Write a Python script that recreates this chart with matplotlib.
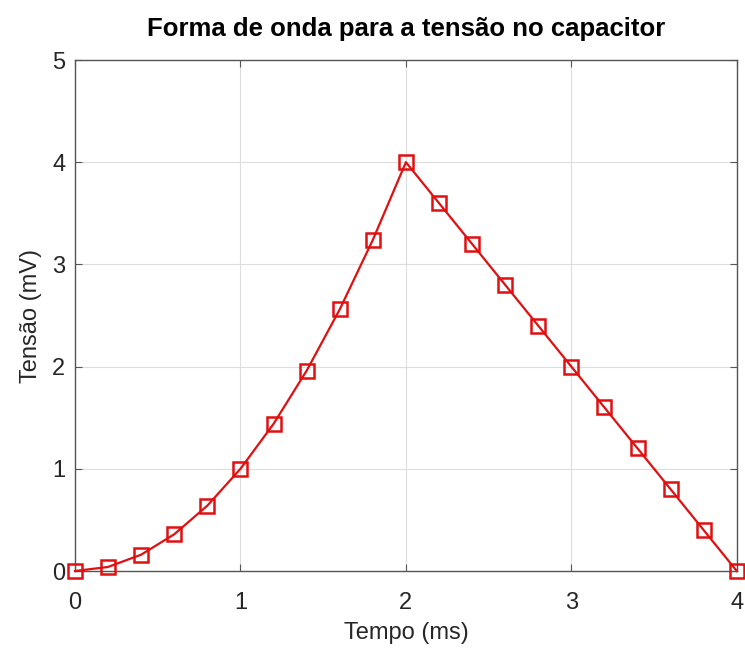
import matplotlib
matplotlib.use('Agg')
from matplotlib import pyplot as plt

# tempo (ms) e tensao (mV)
tempo = [0.0, 0.2, 0.4, 0.6, 0.8, 1.0, 1.2, 1.4, 1.6, 1.8, 2.0,
         2.2, 2.4, 2.6, 2.8, 3.0, 3.2, 3.4, 3.6, 3.8, 4.0]
tensao = [0.0, 0.04, 0.16, 0.36, 0.64, 1.0, 1.44, 1.96, 2.56, 3.24, 4.0,
          3.6, 3.2, 2.8, 2.4, 2.0, 1.6, 1.2, 0.8, 0.4, 0.0]

xticks = [0, 1, 2, 3, 4]
yticks = [0, 1, 2, 3, 4, 5]

plt.rcParams['font.family'] = ['Liberation Sans', 'DejaVu Sans']

fig = plt.figure(figsize=(7.45, 6.48), dpi=100)
ax = fig.add_axes([0.1007, 0.1188, 0.8883, 0.7886])

ax.plot(tempo, tensao, color='#e01010', linewidth=1.6, marker='s',
        markersize=10.5, markerfacecolor='none', markeredgewidth=1.8,
        clip_on=False, zorder=3)

ax.set_xlim(0, 4)
ax.set_ylim(0, 5)
ax.set_xticks(xticks)
ax.set_yticks(yticks)
ax.grid(True, color='#dddddd', linewidth=0.8)
ax.set_axisbelow(True)
ax.tick_params(direction='in', length=5, width=0.8, colors='#555555',
               labelcolor='#262626', labelsize=17, top=True, right=True)
ax.tick_params(axis='x', pad=15)
ax.tick_params(axis='y', pad=7)
for s in ax.spines.values():
    s.set_color('#555555')
    s.set_linewidth(1.0)

ax.set_xlabel('Tempo (ms)', fontsize=17, color='#262626', labelpad=6)
ax.set_ylabel('Tensão (mV)', fontsize=17, color='#262626', labelpad=7)
ax.set_title('Forma de onda para a tensão no capacitor', fontsize=18.5,
             fontweight='bold', pad=17)

fig.savefig('out.png', dpi=100)
